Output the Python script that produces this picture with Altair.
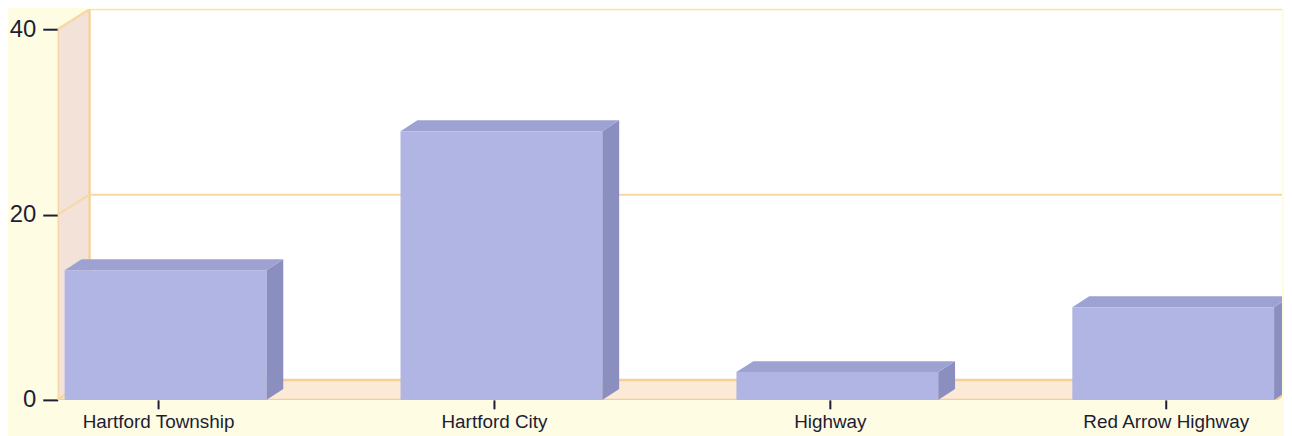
import json
import altair as alt
import pandas as pd

# ---- data ----
categories = ["Hartford Township", "Hartford City", "Highway", "Red Arrow Highway"]
values = [14, 29, 3, 10]
y_ticks = [0, 20, 40]

# ---- geometry (scale units) ----
PX_X = 338.0          # pixels per category step
PX_Y = 9.325          # pixels per value unit
W, H = 1232, 393
x_lo = -101 / PX_X
x_hi = x_lo + W / PX_X
y_hi = H / PX_Y
dxw, dvw = 32 / PX_X, 20 / PX_Y      # wall depth
dxb, dvb = 17 / PX_X, 11 / PX_Y      # bar depth
bl, br = -94 / PX_X, 109 / PX_X      # bar front extent around tick
x_end = (len(categories) - 1) + br + 0.005

BG = "#fefce2"
EDGE = "#f6cf92"
GRID = "#f7d9a4"

xs = alt.Scale(domain=[x_lo, x_hi], nice=False, zero=False)
ys = alt.Scale(domain=[0, y_hi], nice=False, zero=False)

# walls
back = pd.DataFrame([{"x": x_lo + dxw, "x2": x_hi + 1, "y": dvw, "y2": y_hi + 5}])
side = pd.DataFrame([
    {"x": x_lo, "y": 0, "y2": 40},
    {"x": x_lo + dxw, "y": dvw, "y2": 40 + dvw},
])
floor = pd.DataFrame([
    {"y": 0, "x": x_lo, "x2": x_end},
    {"y": dvw, "x": x_lo + dxw, "x2": x_end + dxw},
])
grid_back = pd.DataFrame([{"x": x_lo + dxw, "x2": x_hi + 1, "y": v + dvw} for v in y_ticks[1:]])
grid_side = pd.DataFrame(
    [{"g": v, "x": x_lo, "y": v} for v in y_ticks] +
    [{"g": v, "x": x_lo + dxw, "y": v + dvw} for v in y_ticks]
)

rows_front, rows_top, rows_side = [], [], []
for i, (c, v) in enumerate(zip(categories, values)):
    rows_front.append({"c": c, "x": i + bl, "x2": i + br, "y": 0, "y2": v})
    rows_top.append({"c": c, "y": v, "x": i + bl, "x2": i + br})
    rows_top.append({"c": c, "y": v + dvb, "x": i + bl + dxb, "x2": i + br + dxb})
    rows_side.append({"c": c, "x": i + br, "y": 0, "y2": v})
    rows_side.append({"c": c, "x": i + br + dxb, "y": dvb, "y2": v + dvb})
front_df = pd.DataFrame(rows_front)
top_df = pd.DataFrame(rows_top)
side_df = pd.DataFrame(rows_side)

label_expr = json.dumps(categories) + "[round(datum.value)]"

axis_layer = alt.Chart(pd.DataFrame({"x": [0], "y": [0]})).mark_point(opacity=0).encode(
    x=alt.X("x:Q", scale=xs, title=None,
            axis=alt.Axis(values=list(range(len(categories))), labelExpr=label_expr,
                          domain=False, grid=False, tickSize=9, tickWidth=2,
                          tickColor="#1d1d35", labelColor="#1d1d35",
                          labelFont="Liberation Sans", labelFontSize=19,
                          labelPadding=4, labelFlush=False, labelOverlap=False)),
    y=alt.Y("y:Q", scale=ys, title=None,
            axis=alt.Axis(values=y_ticks, domain=False, grid=False, tickSize=15,
                          tickWidth=2, tickColor="#1d1d35", labelColor="#1d1d35",
                          labelFont="Liberation Sans", labelFontSize=24,
                          labelPadding=7)),
)

back_layer = alt.Chart(back).mark_rect(fill="white", stroke=EDGE, strokeWidth=2, clip=True).encode(
    x=alt.X("x:Q", scale=xs), x2="x2:Q", y=alt.Y("y:Q", scale=ys), y2="y2:Q")

side_layer = alt.Chart(side).mark_area(orient="vertical", fill="#f2e2d8", stroke=EDGE,
                                       strokeWidth=2, clip=True).encode(
    x=alt.X("x:Q", scale=xs), y=alt.Y("y:Q", scale=ys, stack=False), y2="y2:Q")

floor_layer = alt.Chart(floor).mark_area(orient="horizontal", fill="#fbebd6", stroke=EDGE,
                                         strokeWidth=2.5, clip=True).encode(
    y=alt.Y("y:Q", scale=ys), x=alt.X("x:Q", scale=xs, stack=False), x2="x2:Q")

grid_b = alt.Chart(grid_back).mark_rule(color=GRID, strokeWidth=2, clip=True).encode(
    x=alt.X("x:Q", scale=xs), x2="x2:Q", y=alt.Y("y:Q", scale=ys))

grid_s = alt.Chart(grid_side).mark_line(color=GRID, strokeWidth=2, clip=True).encode(
    x=alt.X("x:Q", scale=xs), y=alt.Y("y:Q", scale=ys), detail="g:N")

side_bars = alt.Chart(side_df).mark_area(orient="vertical", fill="#8a8fc0", clip=True).encode(
    x=alt.X("x:Q", scale=xs), y=alt.Y("y:Q", scale=ys, stack=False), y2="y2:Q", detail="c:N")

top_bars = alt.Chart(top_df).mark_area(orient="horizontal", fill="#9da2d2", clip=True).encode(
    y=alt.Y("y:Q", scale=ys), x=alt.X("x:Q", scale=xs, stack=False), x2="x2:Q", detail="c:N")

front_bars = alt.Chart(front_df).mark_rect(fill="#b1b5e3", clip=True).encode(
    x=alt.X("x:Q", scale=xs), x2="x2:Q", y=alt.Y("y:Q", scale=ys), y2="y2:Q")

chart = alt.layer(
    back_layer, side_layer, floor_layer, grid_b, grid_s,
    side_bars, top_bars, front_bars, axis_layer,
).properties(
    width=W, height=H, autosize="none",
    padding={"left": 50, "top": 0, "right": 2, "bottom": 35},
    background=BG,
).configure_view(stroke=None)

chart.save("out.html", embed_options={"renderer": "svg", "actions": False})
